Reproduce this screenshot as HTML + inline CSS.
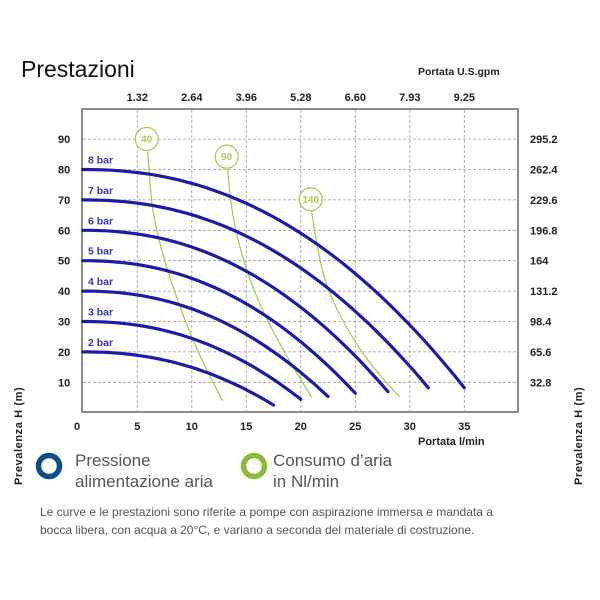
<!DOCTYPE html>
<html><head><meta charset="utf-8"><style>
html,body{margin:0;padding:0;background:#fff;}
svg{display:block;font-family:"Liberation Sans",Arial,sans-serif;}
</style></head><body>
<svg id="s" width="600" height="600" viewBox="0 0 600 600" xmlns="http://www.w3.org/2000/svg">
<rect width="600" height="600" fill="#fff"/>
<text x="21" y="77" font-size="23" fill="#111">Prestazioni</text>
<text x="418" y="75" font-size="10.5" font-weight="bold" fill="#222">Portata U.S.gpm</text>
<g id="grid" stroke="#9a9a9a" stroke-width="0.8" stroke-dasharray="3,2"></g>
<rect x="82" y="109" width="436" height="303" fill="none" stroke="#8c8c8c" stroke-width="2"/>
<g id="labels" font-size="11" font-weight="bold" fill="#222"></g>
<g id="green" fill="none" stroke="#a9cc55" stroke-width="1.3"></g>
<g id="blue" fill="none" stroke="#1c1ca8" stroke-width="3.2" stroke-linecap="round"></g>
<g id="blab" font-size="10.5" font-weight="bold" fill="#3535b0"></g>
<text x="418" y="445" font-size="11" font-weight="bold" fill="#222">Portata  l/min</text>
<text transform="translate(22,485) rotate(-90)" font-size="11" font-weight="bold" fill="#222" letter-spacing="0.6">Prevalenza  H  (m)</text>
<text transform="translate(582,485) rotate(-90)" font-size="11" font-weight="bold" fill="#222" letter-spacing="0.6">Prevalenza  H  (m)</text>
<circle cx="49" cy="466" r="10.5" fill="none" stroke="#0b4d88" stroke-width="5.5"/>
<circle cx="254" cy="466" r="10.5" fill="none" stroke="#8dba3c" stroke-width="5.5"/>
<g font-size="17" fill="#555">
<text x="75" y="466">Pressione</text>
<text x="75" y="487">alimentazione aria</text>
<text x="273" y="466">Consumo d’aria</text>
<text x="273" y="487">in Nl/min</text>
</g>
<g font-size="12" fill="#555">
<text x="40" y="516">Le curve e le prestazioni sono riferite a pompe con aspirazione immersa e mandata a</text>
<text x="40" y="534">bocca libera, con acqua a 20°C, e variano a seconda del materiale di costruzione.</text>
</g>
</svg>
<script>
var NS="http://www.w3.org/2000/svg";
function el(p,t,a,txt){var e=document.createElementNS(NS,t);for(var k in a)e.setAttribute(k,a[k]);if(txt!=null)e.textContent=txt;document.getElementById(p).appendChild(e);return e;}
function X(v){return 82.8+10.9*v;}function Y(h){return 412.7-3.04*h;}
for(var i=1;i<=7;i++){var x=X(5*i);el("grid","line",{x1:x,y1:110,x2:x,y2:411});}
for(var h=10;h<=90;h+=10){var y=Y(h);el("grid","line",{x1:83,y1:y,x2:517,y2:y});}
var gp=["1.32","2.64","3.96","5.28","6.60","7.93","9.25"];
for(var i=0;i<7;i++){el("labels","text",{x:X(5*(i+1)),y:101,"text-anchor":"middle"},gp[i]);}
for(var i=0;i<=7;i++){el("labels","text",{x:i==0?77:X(5*i),y:430,"text-anchor":"middle"},String(5*i));}
var rl=["32.8","65.6","98.4","131.2","164","196.8","229.6","262.4","295.2"];
for(var h=10;h<=90;h+=10){el("labels","text",{x:58,y:Y(h)+4},String(h));el("labels","text",{x:530,y:Y(h)+4},rl[h/10-1]);}
var ends=[[17.5,2.5],[20,4.4],[22.5,5.3],[25,6.4],[28,6.9],[31.7,8.2],[35,8.2]];
for(var b=0;b<7;b++){var H0=20+10*b,xe=ends[b][0],he=ends[b][1],d="";
for(var j=0;j<=40;j++){var x=xe*j/40,hh=H0-(H0-he)*Math.pow(x/xe,2.2);d+=(j?"L":"M")+X(x).toFixed(1)+" "+Y(hh).toFixed(1);}
el("blue","path",{d:d});el("blab","text",{x:88,y:Y(H0)-6},(b+2)+" bar");}
var gs=[[[147.7,151.7],[150,185],[153.3,216.7],[166.7,270],[193.3,343],[222.3,400.7]],
[[227.7,169],[230,203.3],[241.7,256.7],[260,306.7],[286.7,356.7],[311.7,397.3]],
[[311.7,211.7],[318.3,256.7],[330,296.7],[353.3,340],[375,370],[400,397.3]]];
gs.forEach(function(p){var d="M"+p[0][0]+" "+p[0][1];for(var i=1;i<p.length-1;i++){var mx=(p[i][0]+p[i+1][0])/2,my=(p[i][1]+p[i+1][1])/2;d+=" Q"+p[i][0]+" "+p[i][1]+" "+mx+" "+my;}d+=" L"+p[p.length-1][0]+" "+p[p.length-1][1];el("green","path",{d:d});});
var bb=[[146.7,139,"40"],[226.7,156.7,"90"],[310.7,199.3,"140"]];
bb.forEach(function(c){el("green","circle",{cx:c[0],cy:c[1],r:11.5,fill:"#fff"});el("green","text",{x:c[0],y:c[1]+3.5,"text-anchor":"middle","font-size":"10","font-weight":"bold",fill:"#a9cc55",stroke:"none"},c[2]);});
</script>
</body></html>
